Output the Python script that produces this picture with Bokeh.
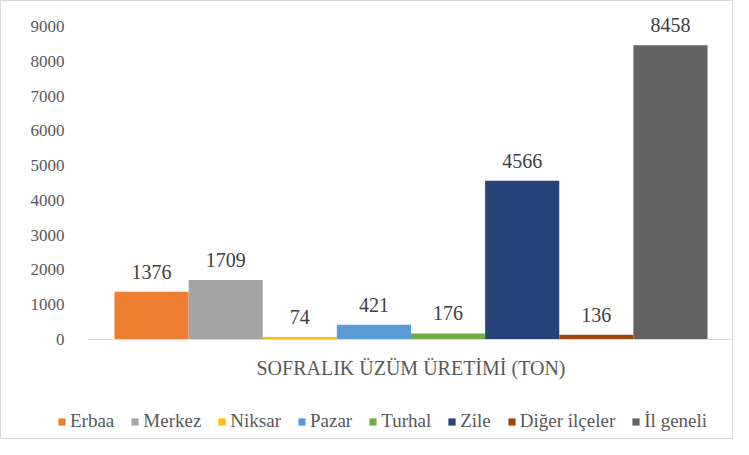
from bokeh.plotting import figure
from bokeh.models import Range1d, FixedTicker, ColumnDataSource, LabelSet, Label, Legend, LegendItem
from bokeh.embed import file_html
from bokeh.resources import INLINE

category = "SOFRALIK ÜZÜM ÜRETİMİ (TON)"
districts = ["Erbaa", "Merkez", "Niksar", "Pazar", "Turhal", "Zile", "Diğer ilçeler", "İl geneli"]
production = [1376, 1709, 74, 421, 176, 4566, 136, 8458]
colors = ["#ED7D31", "#A5A5A5", "#FFC000", "#5B9BD5", "#70AD47", "#264478", "#9E480E", "#636363"]
y_ticks = [0, 1000, 2000, 3000, 4000, 5000, 6000, 7000, 8000, 9000]

FONT = "Liberation Serif"
QFONT = '"Liberation Serif"'
W, H = 733, 439
# pixel layout (picture coordinates)
frame_left = 26          # frame starts here; tick labels sit inside it
axis_left, axis_right = 86, 733
bars_left, bars_right = 113, 706
zero_px, top_tick_px = 338, 25

n = len(districts)
bar_px = (bars_right - bars_left) / n
x_start = -(bars_left - frame_left) / bar_px
x_end = n + (W - bars_right) / bar_px
px_per_unit = (zero_px - top_tick_px) / y_ticks[-1]
y_start = -(H - zero_px) / px_per_unit
y_end = zero_px / px_per_unit
axis_x0 = -(bars_left - axis_left) / bar_px
axis_x1 = n + (axis_right - bars_right) / bar_px

xs = [i + 0.5 for i in range(n)]
src = ColumnDataSource(dict(x=xs, top=production, name=districts, color=colors,
                            label=[str(v) for v in production]))

p = figure(width=W, height=H, output_backend="svg", toolbar_location=None,
           x_range=Range1d(x_start, x_end), y_range=Range1d(y_start, y_end),
           x_axis_location=None,
           min_border_left=frame_left, min_border_right=0, min_border_top=0,
           min_border_bottom=0)
p.styles = {"border": "1px solid #d9d9d9", "box-sizing": "border-box"}
p.outline_line_color = None
p.xgrid.grid_line_color = None
p.ygrid.grid_line_color = None

r = p.vbar(x="x", top="top", width=1.0, bottom=0, fill_color="color", line_color=None, source=src)

# category axis line
p.segment(x0=[axis_x0], y0=[0], x1=[axis_x1], y1=[0], line_color="#d9d9d9", line_width=1)

labels = LabelSet(x="x", y="top", text="label", source=src, y_offset=13,
                  text_align="center", text_baseline="alphabetic",
                  text_font=FONT, text_font_size="20px", text_color="#404040")
p.add_layout(labels)

p.add_layout(Label(x=n / 2, y=0, y_offset=-28, text=category, text_align="center",
                   text_baseline="middle", text_font=FONT, text_font_size="20px",
                   text_color="#595959"))

# y axis
p.yaxis.ticker = FixedTicker(ticks=y_ticks)
p.yaxis.major_label_text_font = QFONT
p.yaxis.major_label_text_font_size = "17px"
p.yaxis.major_label_text_color = "#595959"
p.yaxis.major_label_standoff = -43
p.yaxis.major_tick_line_color = None
p.yaxis.minor_tick_line_color = None
p.yaxis.axis_line_color = None

items = [LegendItem(label=d, renderers=[r], index=i) for i, d in enumerate(districts)]
legend = Legend(items=items, location=(30, 8), orientation="horizontal",
                glyph_width=9, glyph_height=9, label_standoff=4, spacing=16,
                padding=0, margin=0, border_line_color=None, background_fill_alpha=0,
                label_text_font=QFONT, label_text_font_size="19px", label_text_color="#595959")
p.add_layout(legend)

open("out.html", "w").write(file_html(p, INLINE))
